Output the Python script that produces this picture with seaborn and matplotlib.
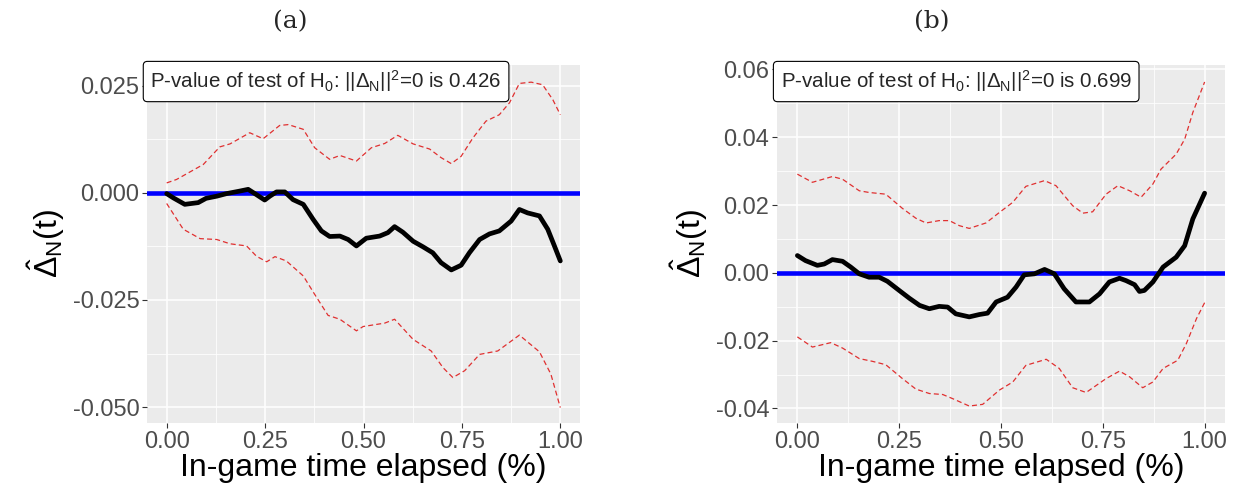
import numpy as np
import matplotlib
matplotlib.use("Agg")
import matplotlib.pyplot as plt
import seaborn as sns

# panel (a): estimated difference and 95% bands
a_est_x = [0.0, 0.017, 0.046, 0.08, 0.10, 0.127, 0.152, 0.186, 0.207, 0.224, 0.249, 0.262, 0.279, 0.30,
           0.321, 0.347, 0.372, 0.393, 0.414, 0.44, 0.461, 0.482, 0.507, 0.541, 0.562, 0.579, 0.60,
           0.626, 0.651, 0.676, 0.697, 0.723, 0.748, 0.769, 0.795, 0.82, 0.845, 0.875, 0.896, 0.917,
           0.947, 0.968, 0.985, 1.0]
a_est_y = [-0.0002, -0.0012, -0.0027, -0.0023, -0.0013, -0.0008, -0.0002, 0.0004, 0.0008, -0.0002,
           -0.0017, -0.0008, 0.0002, 0.0002, -0.0016, -0.0027, -0.0062, -0.0089, -0.0102, -0.0101,
           -0.0109, -0.0124, -0.0106, -0.0101, -0.0093, -0.0079, -0.0092, -0.0113, -0.0126, -0.0140,
           -0.0163, -0.0180, -0.0169, -0.0140, -0.0109, -0.0096, -0.0089, -0.0066, -0.0039, -0.0047,
           -0.0054, -0.0085, -0.0124, -0.0159]
a_up_x = [0.0, 0.025, 0.093, 0.135, 0.161, 0.211, 0.245, 0.287, 0.309, 0.347, 0.376, 0.414, 0.44, 0.482,
          0.52, 0.554, 0.587, 0.626, 0.668, 0.697, 0.723, 0.748, 0.778, 0.811, 0.845, 0.871, 0.896,
          0.926, 0.955, 0.981, 1.0]
a_up_y = [0.0023, 0.0031, 0.0066, 0.0107, 0.0114, 0.0140, 0.0126, 0.0157, 0.0159, 0.0148, 0.0105,
          0.0078, 0.0087, 0.0074, 0.0105, 0.0115, 0.0134, 0.0114, 0.0102, 0.0082, 0.0068, 0.0085,
          0.0128, 0.0167, 0.0182, 0.0210, 0.0255, 0.0258, 0.0252, 0.0217, 0.0182]
a_lo_x = [0.0, 0.042, 0.085, 0.127, 0.161, 0.203, 0.228, 0.254, 0.275, 0.304, 0.347, 0.376, 0.41, 0.44,
          0.482, 0.499, 0.554, 0.579, 0.626, 0.672, 0.702, 0.727, 0.757, 0.795, 0.841, 0.896, 0.947,
          0.976, 1.0]
a_lo_y = [-0.0025, -0.0085, -0.0107, -0.0109, -0.0119, -0.0124, -0.0148, -0.0161, -0.0149, -0.0159,
          -0.0194, -0.0237, -0.0286, -0.0295, -0.0322, -0.0312, -0.0304, -0.0295, -0.0342, -0.0369,
          -0.0408, -0.0431, -0.0415, -0.0377, -0.0369, -0.0332, -0.0371, -0.0423, -0.0501]

# panel (b)
b_est_x = [0.0, 0.02, 0.049, 0.066, 0.086, 0.111, 0.131, 0.152, 0.176, 0.201, 0.221, 0.25, 0.275, 0.30,
           0.324, 0.348, 0.369, 0.389, 0.422, 0.447, 0.467, 0.488, 0.516, 0.537, 0.557, 0.582, 0.607,
           0.631, 0.655, 0.684, 0.717, 0.742, 0.766, 0.791, 0.807, 0.828, 0.84, 0.852, 0.873, 0.898,
           0.93, 0.951, 0.971, 1.0]
b_est_y = [0.0051, 0.0036, 0.0022, 0.0026, 0.0039, 0.0034, 0.0017, -0.0003, -0.0013, -0.0013, -0.0025,
           -0.0052, -0.0075, -0.0096, -0.0106, -0.0099, -0.0101, -0.0121, -0.0130, -0.0123, -0.0119,
           -0.0086, -0.0072, -0.0042, -0.0006, -0.0003, 0.0010, -0.0003, -0.0047, -0.0086, -0.0086,
           -0.0062, -0.0027, -0.0016, -0.0023, -0.0035, -0.0055, -0.0052, -0.0027, 0.0017, 0.0046,
           0.0080, 0.0159, 0.0235]
b_up_x = [0.0, 0.037, 0.086, 0.111, 0.152, 0.176, 0.217, 0.258, 0.291, 0.316, 0.348, 0.373, 0.398, 0.422,
          0.463, 0.496, 0.529, 0.561, 0.607, 0.635, 0.676, 0.701, 0.725, 0.758, 0.787, 0.816, 0.844,
          0.873, 0.893, 0.93, 0.951, 0.971, 1.0]
b_up_y = [0.0291, 0.0267, 0.0284, 0.0276, 0.0242, 0.0237, 0.0232, 0.0190, 0.0161, 0.0147, 0.0154,
          0.0154, 0.0139, 0.0131, 0.0147, 0.0178, 0.0208, 0.0255, 0.0272, 0.0257, 0.0198, 0.0176,
          0.0180, 0.0232, 0.0257, 0.0242, 0.0223, 0.0262, 0.0306, 0.0350, 0.0394, 0.0473, 0.0563]
b_lo_x = [0.0, 0.037, 0.082, 0.111, 0.152, 0.184, 0.217, 0.258, 0.291, 0.324, 0.357, 0.381, 0.422, 0.455,
          0.496, 0.529, 0.561, 0.611, 0.643, 0.676, 0.709, 0.758, 0.791, 0.816, 0.848, 0.873, 0.898,
          0.934, 0.955, 0.98, 1.0]
b_lo_y = [-0.0189, -0.0219, -0.0206, -0.0222, -0.0253, -0.0261, -0.0271, -0.0312, -0.0343, -0.0356,
          -0.0359, -0.0371, -0.0393, -0.0388, -0.0346, -0.0322, -0.0273, -0.0255, -0.0282, -0.0339,
          -0.0353, -0.0312, -0.0290, -0.0307, -0.0339, -0.0322, -0.0282, -0.0258, -0.0209, -0.0135,
          -0.0088]

p_values = ["0.426", "0.699"]
titles = ["(a)", "(b)"]
a_yticks = [-0.050, -0.025, 0.000, 0.025]
b_yticks = [-0.04, -0.02, 0.00, 0.02, 0.04, 0.06]
xticks = [0.0, 0.25, 0.5, 0.75, 1.0]

sns.set_theme(style="darkgrid", rc={
    "axes.facecolor": "#EBEBEB",
    "grid.color": "white",
})
plt.rcParams["font.family"] = ["Liberation Sans", "DejaVu Sans"]
plt.rcParams["mathtext.fontset"] = "custom"
plt.rcParams["mathtext.rm"] = "Liberation Sans"
plt.rcParams["mathtext.it"] = "Liberation Sans"
plt.rcParams["mathtext.default"] = "regular"

fig = plt.figure(figsize=(12.34, 4.90), dpi=100)
ax_a = fig.add_axes([147 / 1234, 67 / 490, 433 / 1234, 358 / 490])
ax_b = fig.add_axes([777 / 1234, 67 / 490, 448 / 1234, 358 / 490])

panels = [
    (ax_a, a_est_x, a_est_y, a_up_x, a_up_y, a_lo_x, a_lo_y, a_yticks, ["-0.050", "-0.025", "0.000", "0.025"], (-0.0537, 0.0298)),
    (ax_b, b_est_x, b_est_y, b_up_x, b_up_y, b_lo_x, b_lo_y, b_yticks, ["-0.04", "-0.02", "0.00", "0.02", "0.04", "0.06"], (-0.0443, 0.0613)),
]
title_x = [290 / 1234, 932 / 1234]

for i, (ax, ex, ey, ux, uy, lx, ly, yt, ytl, ylim) in enumerate(panels):
    sns.lineplot(x=ux, y=uy, ax=ax, color="#E03030", linewidth=0.9, linestyle=(0, (4, 2.5)), estimator=None, sort=False)
    sns.lineplot(x=lx, y=ly, ax=ax, color="#E03030", linewidth=0.9, linestyle=(0, (4, 2.5)), estimator=None, sort=False)
    ax.axhline(0, color="#0000FF", linewidth=3.3, zorder=3)
    sns.lineplot(x=ex, y=ey, ax=ax, color="black", linewidth=3.4, estimator=None, sort=False, zorder=4)

    ax.set_xlim(-0.05, 1.05)
    ax.set_ylim(*ylim)
    ax.set_xticks(xticks)
    ax.set_xticklabels(["0.00", "0.25", "0.50", "0.75", "1.00"])
    ax.set_yticks(yt)
    ax.set_yticklabels(ytl)
    ax.set_xticks([0.125, 0.375, 0.625, 0.875], minor=True)
    ax.set_yticks([(yt[j] + yt[j + 1]) / 2 for j in range(len(yt) - 1)], minor=True)
    ax.grid(True, which="major", color="white", linewidth=1.1)
    ax.grid(True, which="minor", color="white", linewidth=0.55)
    ax.tick_params(axis="both", which="major", labelsize=17, labelcolor="#4D4D4D",
                   length=3.5, width=0.8, color="#333333", pad=2, bottom=True, left=True)
    ax.tick_params(axis="both", which="minor", length=0)
    for s in ax.spines.values():
        s.set_visible(False)

    ax.set_xlabel("In-game time elapsed (%)", fontsize=23, color="black", labelpad=0)
    ax.set_ylabel(r"$\hat{\Delta}_N(t)$", fontsize=23, color="black", labelpad=4)
    fig.text(title_x[i], 1 - 22 / 490, titles[i], fontsize=18, family="DejaVu Serif",
             ha="center", va="center")

    ax.text(0.008, 0.99, r"P-value of test of H$_0$: ||$\Delta_N$||$^2$=0 is " + p_values[i],
            transform=ax.transAxes, fontsize=14.8, ha="left", va="top", zorder=5,
            bbox=dict(boxstyle="round,pad=0.35,rounding_size=0.2", facecolor="white",
                      edgecolor="black", linewidth=0.8))

fig.savefig("out.png", dpi=100)
